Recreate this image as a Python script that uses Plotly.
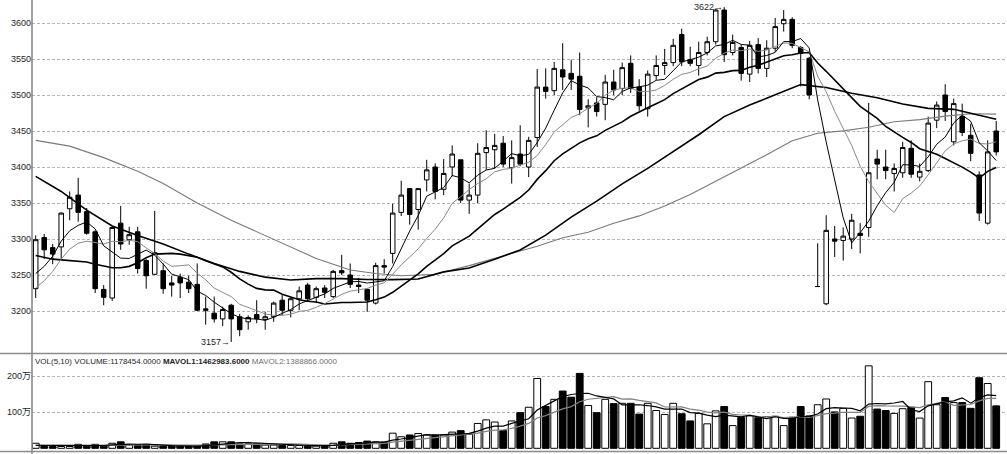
import plotly.graph_objects as go

# ---------------- data ----------------
idx = list(range(114))

opens = [3231, 3302, 3288, 3289, 3342, 3361, 3338, 3310, 3230, 3218,
         3322, 3299, 3310, 3270, 3251, 3256, 3239, 3247, 3240, 3237,
         3203, 3197, 3189, 3208, 3192, 3185, 3195, 3188, 3192, 3215,
         3201, 3217, 3236, 3219, 3232, 3220, 3256, 3250, 3236, 3230,
         3211, 3263, 3280, 3337, 3370, 3341, 3382, 3400, 3369, 3400,
         3410, 3354, 3361, 3420, 3424, 3433, 3399, 3418, 3400, 3441,
         3511, 3506, 3535, 3530, 3526, 3482, 3489, 3487, 3518, 3509,
         3544, 3511, 3481, 3527, 3541, 3545, 3584, 3549, 3541, 3559,
         3574, 3618, 3559, 3566, 3529, 3570, 3537, 3565, 3599, 3605,
         3566, 3551, 3234, 3210, 3300, 3298, 3300, 3308, 3316, 3411,
         3400, 3391, 3392, 3426, 3386, 3395, 3465, 3500, 3435, 3470,
         3444, 3389, 3322, 3450]

highs = [3305, 3307, 3293, 3337, 3366, 3385, 3343, 3312, 3236, 3317,
         3346, 3317, 3317, 3272, 3339, 3266, 3249, 3252, 3249, 3266,
         3220, 3220, 3206, 3210, 3196, 3194, 3215, 3199, 3213, 3222,
         3219, 3234, 3239, 3234, 3236, 3257, 3278, 3266, 3246, 3231,
         3267, 3272, 3349, 3381, 3370, 3370, 3410, 3405, 3411, 3430,
         3410, 3377, 3433, 3451, 3446, 3443, 3437, 3458, 3442, 3536,
         3537, 3546, 3572, 3549, 3559, 3494, 3497, 3528, 3535, 3545,
         3555, 3522, 3534, 3555, 3564, 3578, 3592, 3567, 3574, 3581,
         3620, 3622, 3584, 3570, 3575, 3579, 3576, 3607, 3618, 3608,
         3568, 3553, 3294, 3333, 3318, 3316, 3335, 3322, 3489, 3424,
         3424, 3405, 3435, 3437, 3405, 3470, 3491, 3515, 3495, 3488,
         3460, 3394, 3437, 3464]

lows = [3218, 3272, 3265, 3272, 3326, 3324, 3306, 3225, 3208, 3214,
        3285, 3292, 3252, 3231, 3250, 3224, 3220, 3218, 3225, 3200,
        3181, 3184, 3179, 3157, 3165, 3174, 3183, 3174, 3185, 3194,
        3191, 3201, 3213, 3211, 3218, 3218, 3250, 3232, 3225, 3199,
        3209, 3252, 3266, 3332, 3320, 3313, 3366, 3355, 3361, 3387,
        3350, 3335, 3350, 3396, 3398, 3400, 3377, 3401, 3386, 3428,
        3495, 3500, 3507, 3507, 3472, 3455, 3470, 3465, 3500, 3500,
        3503, 3478, 3470, 3521, 3528, 3540, 3540, 3540, 3527, 3555,
        3570, 3546, 3555, 3520, 3518, 3530, 3525, 3560, 3588, 3565,
        3512, 3494, 3234, 3208, 3275, 3270, 3286, 3280, 3303, 3383,
        3383, 3366, 3385, 3385, 3380, 3393, 3454, 3464, 3430, 3443,
        3408, 3325, 3320, 3416]

closes = [3299, 3285, 3279, 3336, 3358, 3337, 3308, 3231, 3219, 3316,
          3293, 3306, 3259, 3249, 3281, 3231, 3236, 3239, 3231, 3201,
          3201, 3189, 3202, 3189, 3174, 3191, 3189, 3192, 3211, 3201,
          3217, 3228, 3217, 3231, 3226, 3255, 3253, 3237, 3234, 3215,
          3263, 3261, 3336, 3361, 3334, 3370, 3396, 3366, 3391, 3418,
          3354, 3361, 3419, 3427, 3430, 3404, 3413, 3404, 3437, 3511,
          3505, 3537, 3525, 3522, 3480, 3485, 3477, 3518, 3507, 3538,
          3509, 3485, 3529, 3541, 3545, 3569, 3546, 3544, 3559, 3574,
          3618, 3556, 3573, 3530, 3569, 3537, 3565, 3595, 3605, 3569,
          3558, 3500, 3234, 3312, 3297, 3304, 3326, 3305, 3392, 3404,
          3395, 3398, 3427, 3390, 3394, 3461, 3486, 3477, 3488, 3448,
          3419, 3336, 3421, 3421]

# volume in 万
volumes = [14, 5, 5, 5, 5, 11, 6, 11, 6, 14,
           18, 9, 9, 9, 6, 6, 6, 6, 6, 6,
           12, 18, 18, 18, 12, 12, 12, 9, 9, 8,
           8, 8, 6, 6, 8, 14, 18, 14, 16, 20,
           18, 17, 42, 32, 37, 41, 37, 37, 37, 45,
           49, 39, 69, 79, 73, 49, 76, 99, 114, 194,
           116, 136, 159, 142, 208, 119, 99, 136, 124, 125,
           125, 95, 125, 105, 94, 125, 96, 76, 97, 68,
           104, 116, 63, 86, 90, 85, 88, 89, 63, 86,
           116, 90, 121, 137, 101, 111, 84, 89, 229, 109,
           105, 97, 110, 114, 84, 185, 121, 141, 127, 127,
           111, 196, 180, 117.8]

ma5 = [3252, 3262, 3276, 3297, 3311.4, 3319.0, 3323.6, 3314.0, 3290.6, 3282.2,
       3273.4, 3273.0, 3278.6, 3284.6, 3277.6, 3265.2, 3251.2, 3247.2, 3243.6, 3227.6,
       3221.6, 3212.2, 3204.8, 3196.4, 3191.0, 3189.0, 3189.0, 3187.0, 3191.4, 3196.8,
       3202.0, 3209.8, 3214.8, 3218.8, 3223.8, 3231.4, 3236.4, 3240.4, 3241.0, 3238.8,
       3240.4, 3242.0, 3261.8, 3287.2, 3311.0, 3332.4, 3359.4, 3365.4, 3371.4, 3388.2,
       3385.0, 3378.0, 3388.6, 3395.8, 3398.2, 3408.2, 3418.6, 3415.6, 3417.6, 3433.8,
       3454.0, 3478.8, 3503.0, 3520.0, 3513.8, 3509.8, 3497.8, 3496.4, 3493.4, 3505.0,
       3509.8, 3511.4, 3513.6, 3520.4, 3521.8, 3533.8, 3546.0, 3549.0, 3552.6, 3558.4,
       3568.2, 3570.2, 3576.0, 3570.2, 3569.2, 3553.0, 3554.8, 3559.2, 3574.2, 3574.2,
       3578.4, 3565.4, 3493.2, 3434.6, 3380.2, 3329.4, 3294.6, 3308.8, 3324.8, 3346.2,
       3364.4, 3378.8, 3403.2, 3402.8, 3400.8, 3414.0, 3431.6, 3441.6, 3461.2, 3472.0,
       3463.6, 3433.6, 3422.4, 3409.0]

ma10 = [3232, 3242, 3255, 3272, 3286, 3294, 3297, 3295, 3293, 3296.8,
        3296.2, 3298.3, 3296.3, 3287.6, 3279.9, 3269.3, 3262.1, 3262.9, 3264.1, 3252.6,
        3243.4, 3231.7, 3226.0, 3220.0, 3209.3, 3205.3, 3200.6, 3195.9, 3193.9, 3193.9,
        3195.5, 3199.4, 3200.9, 3205.1, 3210.3, 3216.7, 3223.1, 3227.6, 3229.9, 3231.3,
        3235.9, 3239.2, 3251.1, 3264.1, 3274.9, 3286.4, 3300.7, 3313.6, 3329.3, 3349.6,
        3358.7, 3368.7, 3377.0, 3383.6, 3393.2, 3396.6, 3398.3, 3402.1, 3406.7, 3416.0,
        3431.1, 3448.7, 3459.3, 3468.8, 3473.8, 3481.9, 3488.3, 3499.7, 3506.7, 3509.4,
        3509.8, 3504.6, 3505.0, 3506.9, 3513.4, 3521.8, 3528.7, 3531.3, 3536.5, 3540.1,
        3551.0, 3558.1, 3562.5, 3561.4, 3563.8, 3560.6, 3562.5, 3567.6, 3572.2, 3571.7,
        3565.7, 3560.1, 3526.2, 3504.4, 3477.2, 3453.9, 3430.0, 3401.0, 3379.7, 3363.2,
        3346.9, 3336.7, 3356.0, 3363.8, 3373.5, 3389.2, 3405.2, 3422.4, 3432.0, 3436.4,
        3438.8, 3432.6, 3432.0, 3435.1]

ma20 = [3277, 3274, 3272, 3271, 3270, 3270, 3268, 3265, 3262, 3260,
        3260, 3262, 3267, 3274, 3279, 3280, 3280, 3279, 3277, 3274.7,
        3269.8, 3265.0, 3261.2, 3253.8, 3244.6, 3237.3, 3231.4, 3229.4, 3229.0, 3223.3,
        3219.5, 3215.6, 3213.5, 3212.6, 3209.8, 3211.0, 3211.9, 3211.8, 3211.9, 3212.6,
        3215.7, 3219.3, 3226.0, 3234.6, 3242.6, 3251.6, 3261.9, 3270.6, 3279.6, 3290.5,
        3297.3, 3304.0, 3314.1, 3323.9, 3334.1, 3341.5, 3349.5, 3357.9, 3368.0, 3382.8,
        3394.9, 3408.7, 3418.2, 3426.2, 3433.5, 3439.3, 3443.3, 3450.9, 3456.7, 3462.7,
        3470.5, 3476.7, 3482.2, 3487.9, 3493.6, 3501.9, 3508.5, 3515.5, 3521.6, 3524.8,
        3530.4, 3531.4, 3533.8, 3534.2, 3538.6, 3541.2, 3545.6, 3549.5, 3554.4, 3555.9,
        3558.4, 3559.1, 3544.4, 3532.9, 3520.5, 3507.3, 3496.3, 3484.3, 3476.0, 3467.5,
        3456.3, 3448.4, 3441.1, 3434.1, 3425.4, 3421.6, 3417.6, 3411.7, 3405.9, 3399.8,
        3392.9, 3384.7, 3394.0, 3399.4]

ma40_idx = [0, 3, 6, 9, 12, 15, 18, 21, 24, 27, 30, 33, 36, 39, 42, 45, 48, 51, 54, 57,
            60, 63, 66, 69, 72, 75, 78, 81, 84, 87, 90, 93, 96, 99, 102, 105, 108, 111, 113]
ma40_val = [3387, 3366, 3340, 3318, 3305, 3293, 3279, 3266, 3255, 3247, 3243, 3245, 3245,
            3243.7, 3243.6, 3244.4, 3254.3, 3259.8, 3271.9, 3284.8, 3305.3, 3330.4, 3352.6,
            3376.6, 3398.1, 3421.7, 3444.8, 3470.0, 3486.0, 3500.2, 3514.4, 3510.4, 3502.4,
            3496.1, 3487.4, 3481.4, 3480.1, 3471.9, 3466.2]

ma60_idx = [0, 4, 8, 12, 15, 19, 23, 26, 29, 33, 37, 40, 43, 47, 51, 55, 59, 62, 65, 68,
            71, 74, 77, 80, 83, 86, 89, 92, 95, 98, 101, 104, 107, 110, 113]
ma60_val = [3437, 3429, 3413, 3394, 3377, 3350, 3326, 3310, 3294, 3273, 3257, 3252, 3249,
            3251, 3263, 3277, 3290.0, 3301.8, 3309.4, 3321.8, 3332.1, 3345.8, 3361.7, 3380.3,
            3398.3, 3416.9, 3436.4, 3446.9, 3450.2, 3455.2, 3462.8, 3465.8, 3470.7, 3473.9, 3473.4]

mavol5 = [8, 8, 7, 7, 6.8, 6.2, 6.4, 7.6, 7.8, 9.6,
          11, 11.6, 11.2, 11.8, 10.2, 7.8, 7.2, 6.6, 6, 6,
          7.2, 9.6, 12, 14.4, 15.6, 15.6, 14.4, 12.6, 10.8, 10,
          9.2, 8.4, 7.8, 7.2, 7.2, 8.4, 10.4, 12, 14, 16.4,
          17.2, 17, 22.6, 25.8, 29.2, 33.8, 37.8, 36.8, 37.8, 39.4,
          41, 41.4, 47.8, 56.2, 61.8, 61.8, 69.2, 75.2, 82.2, 106.4,
          119.8, 131.8, 143.8, 149.4, 152.2, 152.8, 145.4, 140.8, 137.2, 120.6,
          121.8, 121, 118.8, 115, 108.8, 108.8, 109, 99.2, 97.6, 92.4,
          88.2, 92.2, 89.6, 87.4, 91.8, 88, 82.4, 87.6, 83, 82.2,
          88.4, 88.8, 95.2, 110, 113, 112, 110.8, 104.4, 122.8, 124.4,
          123.2, 125.8, 130, 107, 102, 118, 122.8, 129, 131.6, 140.2,
          125.4, 140.4, 148.2, 146.3]

mavol10 = [8, 8, 8, 7, 7, 7, 7, 7, 7, 8.2,
           8.6, 9, 9.4, 9.8, 9.9, 9.4, 9.4, 8.9, 8.9, 8.1,
           7.5, 8.4, 9.3, 10.2, 10.8, 11.4, 12, 12.3, 12.6, 12.8,
           12.4, 11.4, 10.2, 9, 8.6, 8.8, 9.4, 9.9, 10.6, 11.8,
           12.8, 13.7, 17.3, 19.9, 22.8, 25.5, 27.4, 29.7, 31.8, 34.3,
           37.4, 39.6, 42.3, 47, 50.6, 51.4, 55.3, 61.5, 69.2, 84.1,
           90.8, 100.5, 109.5, 115.8, 129.3, 136.3, 138.6, 142.3, 143.3, 136.4,
           137.3, 133.2, 129.8, 126.1, 114.7, 115.3, 115, 109, 106.3, 100.6,
           98.5, 100.6, 94.4, 92.5, 92.1, 88.1, 87.3, 88.6, 85.2, 87,
           88.2, 85.6, 91.4, 96.5, 97.6, 100.2, 99.8, 99.8, 116.4, 118.7,
           117.6, 118.3, 117.2, 114.9, 113.2, 120.6, 124.3, 129.5, 119.3, 121.1,
           121.7, 131.6, 138.6, 138.9]

price_ticks = [3200, 3250, 3300, 3350, 3400, 3450, 3500, 3550, 3600]
vol_ticks = [100, 200]
vol_ticktext = ["100万", "200万"]
vol_header = ("VOL(5,10) VOLUME:1178454.0000 <b>MAVOL1:1462983.6000</b> "
              "<span style='color:#707070'>MAVOL2:1388866.0000</span>")

# ---------------- figure ----------------
FONT = '"Liberation Sans", "Noto Sans CJK SC", sans-serif'
W, H = 1007, 454
L = 32
GRID = dict(showgrid=True, gridcolor="#b4b4b4", griddash="3px,2px", gridwidth=1)

fig = go.Figure()

fig.add_trace(go.Candlestick(
    x=idx, open=opens, high=highs, low=lows, close=closes,
    increasing=dict(line=dict(color="black", width=1), fillcolor="white"),
    decreasing=dict(line=dict(color="black", width=1), fillcolor="black"),
    whiskerwidth=0, hoverinfo="skip", showlegend=False,
    xaxis="x", yaxis="y"))

line_specs = [
    (ma60_idx, ma60_val, "#7a7a7a", 1.1),
    (ma40_idx, ma40_val, "#000000", 1.6),
    (idx, ma20, "#000000", 1.6),
    (idx, ma10, "#8a8a8a", 1.0),
    (idx, ma5, "#000000", 1.0),
]
for xs, ys, col, w in line_specs:
    fig.add_trace(go.Scatter(x=xs, y=ys, mode="lines", line=dict(color=col, width=w),
                             hoverinfo="skip", showlegend=False, xaxis="x", yaxis="y"))

vol_colors = ["white" if c >= o else "black" for o, c in zip(opens, closes)]
fig.add_trace(go.Bar(x=idx, y=volumes, marker=dict(color=vol_colors, line=dict(color="black", width=1)),
                     hoverinfo="skip", showlegend=False, xaxis="x", yaxis="y2"))
fig.add_trace(go.Scatter(x=idx, y=mavol10, mode="lines", line=dict(color="#808080", width=1.2),
                         hoverinfo="skip", showlegend=False, xaxis="x", yaxis="y2"))
fig.add_trace(go.Scatter(x=idx, y=mavol5, mode="lines", line=dict(color="#000000", width=1.2),
                         hoverinfo="skip", showlegend=False, xaxis="x", yaxis="y2"))

# pixel helpers for layout
def py(px):
    return 1 - px / H

price_dom = [py(352), 1]
vol_dom = [0, py(354)]
# price axis: 3600 at y=23px, 0.72 px per point
p_top = 3600 + 23 / 0.72
p_bot = 3600 - (352 - 23) / 0.72
# volume axis: 0 at y=448.3px, 0.36 px per 万
v_top = (448.3 - 354) / 0.36
v_bot = (448.3 - 454) / 0.36

peak_i = max(idx, key=lambda i: highs[i])
low_i = min(idx, key=lambda i: lows[i])

fig.update_layout(
    width=W, height=H,
    margin=dict(l=L, r=0, t=0, b=0),
    paper_bgcolor="white", plot_bgcolor="white",
    showlegend=False,
    font=dict(family=FONT, size=9, color="#1e1e1e"),
    bargap=0.2, boxgap=0.24,
    xaxis=dict(range=[-0.435, 114.27], showgrid=False, showticklabels=False, zeroline=False,
               showline=False, ticks="", rangeslider=dict(visible=False), anchor="y2"),
    yaxis=dict(domain=price_dom, range=[p_bot, p_top], tickvals=price_ticks,
               zeroline=False, ticks="", showline=False,
               tickfont=dict(family=FONT, size=9, color="#1e1e1e"), anchor="x", **GRID),
    yaxis2=dict(domain=vol_dom, range=[v_bot, v_top], tickvals=vol_ticks, ticktext=vol_ticktext,
                zeroline=False, ticks="", showline=False,
                tickfont=dict(family=FONT, size=9, color="#1e1e1e"), anchor="x", **GRID),
    shapes=[
        dict(type="line", xref="paper", yref="paper", x0=0, x1=0, y0=0, y1=1,
             line=dict(color="#808080", width=1.5)),
        dict(type="line", xref="paper", yref="paper", x0=-L / (W - L), x1=1,
             y0=py(353.5), y1=py(353.5), line=dict(color="#8c8c8c", width=1.5)),
        dict(type="line", xref="paper", yref="paper", x0=-L / (W - L), x1=1,
             y0=py(451.5), y1=py(451.5), line=dict(color="#8c8c8c", width=1.5)),
    ],
    annotations=[
        dict(xref="paper", yref="paper", x=1 / (W - L), y=py(361), xanchor="left", yanchor="middle",
             text=vol_header, showarrow=False, font=dict(family=FONT, size=8, color="#1e1e1e")),
        dict(xref="x", yref="y", x=peak_i, y=highs[peak_i], xanchor="right", yanchor="middle",
             text=f"{highs[peak_i]}→", showarrow=False, xshift=1,
             font=dict(family=FONT, size=9, color="#1e1e1e")),
        dict(xref="x", yref="y", x=low_i, y=lows[low_i], xanchor="right", yanchor="middle",
             text=f"{lows[low_i]}→", showarrow=False, xshift=1,
             font=dict(family=FONT, size=9, color="#1e1e1e")),
    ],
)

fig.write_html(
    "out.html",
    config={"displayModeBar": False, "staticPlot": True},
    post_script="document.documentElement.style.margin='0';document.body.style.margin='0';"
                "document.body.style.overflow='hidden';",
)
